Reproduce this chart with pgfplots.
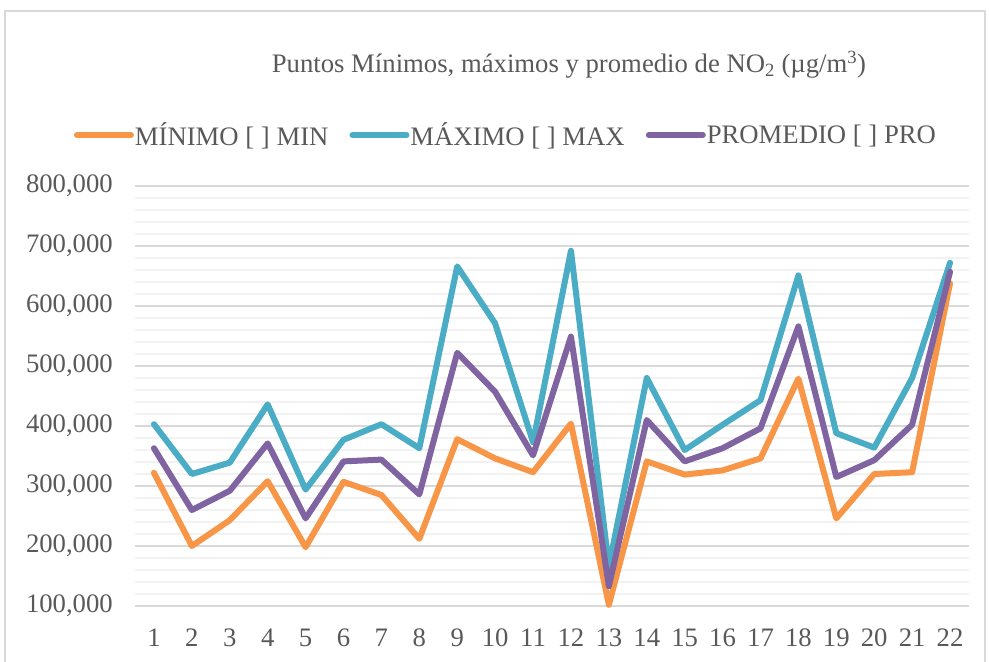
\documentclass[border=0pt]{standalone}
\usepackage{pgfplots}
\pgfplotsset{compat=1.18}
\usepackage{fontspec}
\setmainfont{Liberation Serif}
\definecolor{cmin}{HTML}{F79646}
\definecolor{cmax}{HTML}{4BACC6}
\definecolor{cpro}{HTML}{8064A2}
\definecolor{txt}{HTML}{595959}
\definecolor{gmaj}{HTML}{D9D9D9}
\definecolor{gmin}{HTML}{F2F2F2}
\begin{document}
\begin{tikzpicture}[x=1pt,y=1pt]
\useasboundingbox (0,0) rectangle (989,662);
\draw[color=gmaj, line width=1.2pt] (5,-20) -- (5,651) -- (985,651) -- (985,-20);
\node[anchor=base, text=txt, font=\fontsize{26.7}{30}\selectfont] at (569,589)
  {Puntos Mínimos, máximos y promedio de NO\textsubscript{2} (µg/m\textsuperscript{3})};
\begin{axis}[
  at={(135pt,56pt)}, anchor=south west,
  width=834pt, height=420pt, scale only axis,
  xmin=0.5, xmax=22.5, ymin=100000, ymax=800000,
  xtick={1,...,22}, ytick={100000,200000,...,800000},
  minor y tick num=4,
  ymajorgrids, yminorgrids,
  major grid style={draw=gmaj, line width=1.5pt},
  minor grid style={draw=gmin, line width=1.5pt},
  axis line style={draw=none}, major tick length=0pt, minor tick length=0pt,
  tick style={draw=none},
  scaled y ticks=false,
  yticklabel={\pgfmathprintnumber[fixed, 1000 sep={,}, assume math mode=true]{\tick}},
  xticklabel={\pgfmathprintnumber[assume math mode=true]{\tick}},
  tick label style={font=\fontsize{26.7}{30}\selectfont, text=txt, inner sep=0pt},
  yticklabel style={anchor=east, xshift=-22pt},
  xticklabel style={anchor=north, yshift=-23pt},
  legend columns=3,
  legend style={draw=none, fill=none, at={(0.4442,1.1214)}, anchor=center,
    font=\fontsize{26.7}{30}\selectfont, text=txt,
    /tikz/every even column/.append style={column sep=20pt},
    nodes={inner sep=1pt}},
  legend cell align=left,
  legend image code/.code={\draw[#1, line width=6pt, line cap=round] (0pt,0pt) -- (54pt,0pt);},
  every axis plot/.append style={line width=6pt, line join=round, line cap=round, mark=none},
  clip=false,
]
\addplot[cmin] coordinates {(1,322000)(2,200000)(3,243000)(4,308000)(5,198000)(6,307000)(7,285000)(8,212000)(9,378000)(10,346000)(11,323000)(12,404000)(13,102000)(14,341000)(15,319000)(16,326000)(17,346000)(18,479000)(19,246000)(20,320000)(21,323000)(22,638000)};
\addlegendentry{MÍNIMO [ ] MIN}
\addplot[cmax] coordinates {(1,403000)(2,320000)(3,339000)(4,436000)(5,294000)(6,377000)(7,403000)(8,363000)(9,666000)(10,571000)(11,373000)(12,692000)(13,166000)(14,480000)(15,360000)(16,402000)(17,443000)(18,651000)(19,388000)(20,364000)(21,480000)(22,672000)};
\addlegendentry{MÁXIMO [ ] MAX}
\addplot[cpro] coordinates {(1,363000)(2,260000)(3,292000)(4,371000)(5,246000)(6,341000)(7,344000)(8,286000)(9,522000)(10,457000)(11,351000)(12,549000)(13,133000)(14,410000)(15,341000)(16,363000)(17,396000)(18,566000)(19,315000)(20,343000)(21,402000)(22,657000)};
\addlegendentry{PROMEDIO [ ] PRO}
\end{axis}
\end{tikzpicture}
\end{document}
